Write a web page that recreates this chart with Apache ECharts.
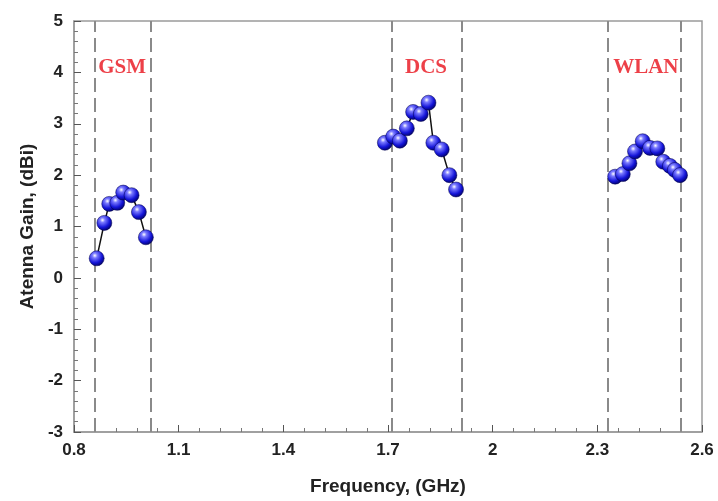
<!DOCTYPE html>
<html>
<head>
<meta charset="utf-8">
<script src="https://cdn.jsdelivr.net/npm/echarts@6/dist/echarts.min.js"></script>
<style>
  html, body { margin: 0; padding: 0; background: #fff; }
  #chart { width: 718px; height: 501px; }
</style>
</head>
<body>
<div id="chart"></div>
<script>
// 数据 (频率 GHz / 增益 dBi)
const gsmFreq = [0.865, 0.887, 0.901, 0.924, 0.941, 0.965, 0.986, 1.006]
const gsmGain = [0.38, 1.07, 1.44, 1.46, 1.66, 1.61, 1.28, 0.79]
const dcsFreq = [1.691, 1.715, 1.734, 1.754, 1.772, 1.794, 1.816, 1.830, 1.854, 1.876, 1.895]
const dcsGain = [2.63, 2.75, 2.67, 2.91, 3.23, 3.19, 3.41, 2.63, 2.50, 2.00, 1.72]
const wlanFreq = [2.351, 2.373, 2.392, 2.408, 2.430, 2.451, 2.472, 2.489, 2.508, 2.522, 2.537]
const wlanGain = [1.97, 2.02, 2.23, 2.46, 2.66, 2.53, 2.52, 2.26, 2.18, 2.10, 2.00]
// 频段边界线
const bandEdges = [0.858, 1.024, 1.706, 1.908, 2.334, 2.535]
const bandNames = ['GSM', 'DCS', 'WLAN']
const bandLabelX = [0.938, 1.809, 2.439]
const bandLabelY = [4.1, 4.1, 4.1]

const axisColor = '#9a9a9a'
const labelFont = { color: '#222', fontSize: 17, fontWeight: 'bold', fontFamily: 'Liberation Sans, Arial, sans-serif' }
const nameFont = { color: '#222', fontSize: 19, fontWeight: 'bold', fontFamily: 'Liberation Sans, Arial, sans-serif' }

// 蓝色玻璃球
const ball = {
  type: 'radial', x: 0.38, y: 0.32, r: 0.72,
  colorStops: [
    { offset: 0, color: '#ffffff' },
    { offset: 0.22, color: '#7a7aff' },
    { offset: 0.65, color: '#1414d8' },
    { offset: 1, color: '#000060' }
  ]
}

function bandSeries(name, xs, ys) {
  return {
    name: name,
    type: 'line',
    data: xs.map((x, i) => [x, ys[i]]),
    symbol: 'circle',
    symbolSize: 15,
    showAllSymbol: true,
    lineStyle: { color: '#111', width: 1.5 },
    itemStyle: { color: ball, borderColor: '#00004a', borderWidth: 0.5 },
    z: 5
  }
}

const chart = echarts.init(document.getElementById('chart'))
const option = {
  backgroundColor: '#fff',
  animation: false,
  grid: {
    left: 74, right: 16, top: 21, bottom: 69,
    show: true, borderColor: axisColor, borderWidth: 1.5
  },
  xAxis: {
    type: 'value',
    min: 0.8, max: 2.6, interval: 0.3,
    name: 'Frequency, (GHz)',
    nameLocation: 'middle',
    nameGap: 45,
    nameTextStyle: nameFont,
    axisLine: { onZero: false, lineStyle: { color: axisColor, width: 1.5 } },
    axisTick: { inside: true, length: 7, lineStyle: { color: '#555' } },
    minorTick: { show: true, splitNumber: 5, length: 4, lineStyle: { color: '#777' } },
    splitLine: { show: false },
    axisLabel: Object.assign({ margin: 10, formatter: v => String(+v.toFixed(1)) }, labelFont)
  },
  yAxis: {
    type: 'value',
    min: -3, max: 5, interval: 1,
    name: 'Atenna Gain, (dBi)',
    nameLocation: 'middle',
    nameGap: 33,
    nameTextStyle: nameFont,
    axisLine: { show: true, onZero: false, lineStyle: { color: axisColor, width: 1.5 } },
    axisTick: { show: true, inside: true, length: 7, lineStyle: { color: '#555' } },
    minorTick: { show: true, splitNumber: 5, length: 4, lineStyle: { color: '#777' } },
    splitLine: { show: false },
    axisLabel: Object.assign({ margin: 11 }, labelFont)
  },
  series: [
    {
      type: 'line',
      data: [],
      silent: true,
      markLine: {
        silent: true,
        symbol: 'none',
        label: { show: false },
        lineStyle: { color: '#8a8a8a', width: 2, type: [14, 6] },
        data: bandEdges.map(v => ({ xAxis: v }))
      }
    },
    bandSeries('GSM', gsmFreq, gsmGain),
    bandSeries('DCS', dcsFreq, dcsGain),
    bandSeries('WLAN', wlanFreq, wlanGain),
    {
      type: 'scatter',
      silent: true,
      symbolSize: 2,
      itemStyle: { color: 'rgba(0,0,0,0)' },
      data: bandNames.map((n, i) => ({ name: n, value: [bandLabelX[i], bandLabelY[i]] })),
      label: {
        show: true,
        position: 'inside',
        formatter: p => p.name,
        color: '#e8101a',
        fontSize: 21,
        fontWeight: 'bold',
        fontFamily: 'Liberation Serif, Times New Roman, serif'
      },
      z: 6
    }
  ]
}
chart.setOption(option)
window.addEventListener('resize', () => chart.resize())
</script>
</body>
</html>
